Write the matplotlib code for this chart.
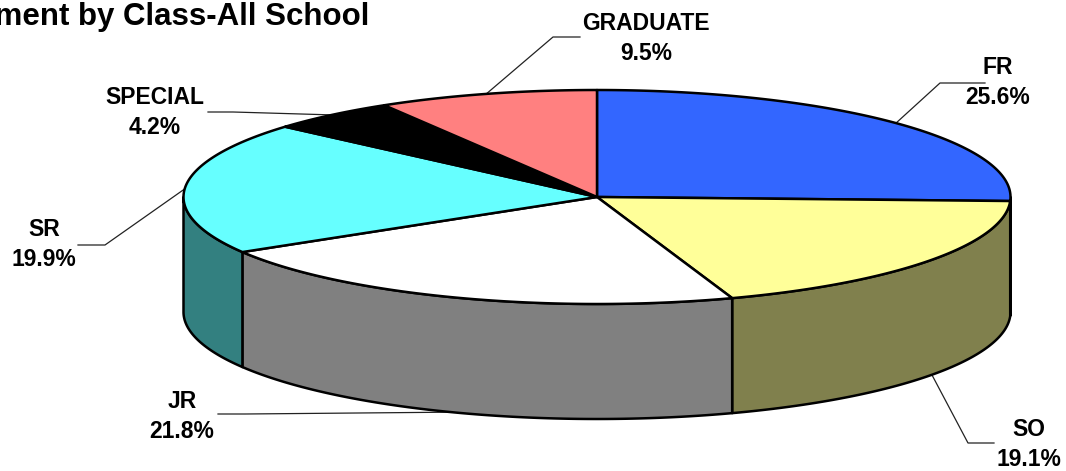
import numpy as np
import matplotlib
matplotlib.use('Agg')
import matplotlib.pyplot as plt

plt.rcParams['font.family'] = ['Liberation Sans', 'DejaVu Sans']

# Data
categories = ['FR', 'SO', 'JR', 'SR', 'SPECIAL', 'GRADUATE']
percents = [25.6, 19.1, 21.8, 19.9, 4.2, 9.5]
# slice sizes as drawn in the picture (they differ a little from the printed labels)
drawn_shares = [25.6, 19.1, 21.7, 20.0, 5.0, 8.6]

top_colors = ['#3366FF', '#FFFF99', '#FFFFFF', '#66FFFF', '#000000', '#FF8080']
side_colors = ['#1A3380', '#80804D', '#808080', '#338080', '#000000', '#804040']

# Pie shape in pixels
cx, cy = 597, 197
rx, ry = 413.5, 107
depth = 115

# Label text centre and leader line (slice end -> elbow -> label end)
label_pos = [(998, 83), (1029, 445), (182, 416), (44, 245), (155, 112), (646, 39)]
leaders = [
    [(895, 124), (940, 83), (985, 83)],
    [(932, 375), (968, 443), (994, 443)],
    [(470, 412), (245, 414), (218, 414)],
    [(186, 188), (105, 245), (78, 245)],
    [(335, 115), (233, 112), (208, 112)],
    [(485, 95), (553, 37), (580, 37)],
]


def ellipse_pts(a0, a1, dy=0):
    t = np.radians(np.linspace(a0, a1, 200))
    return cx + rx * np.cos(t), cy + dy - ry * np.sin(t)


fig = plt.figure(figsize=(10.66, 4.71), dpi=100)
ax = fig.add_axes([0, 0, 1, 1])
ax.set_xlim(0, 1066)
ax.set_ylim(471, 0)
ax.axis('off')

# Leader lines go under the pie
for pts in leaders:
    xs, ys = zip(*pts)
    ax.plot(xs, ys, color='#222222', lw=0.9, zorder=1)

# Clockwise from 12 o'clock
edges = 90 - 360 * np.cumsum([0] + drawn_shares) / np.sum(drawn_shares)

# Side walls, only the front half of the rim shows
for i in range(len(categories)):
    a0, a1 = edges[i], edges[i + 1]
    lo = max(a1, -180)
    hi = min(a0, 0)
    if hi <= lo:
        continue
    x1, y1 = ellipse_pts(hi, lo)
    x2, y2 = ellipse_pts(lo, hi, depth)
    ax.fill(np.r_[x1, x2], np.r_[y1, y2], facecolor=side_colors[i],
            edgecolor='black', lw=1.8, joinstyle='round', zorder=2)

# Top slices
for i in range(len(categories)):
    x1, y1 = ellipse_pts(edges[i], edges[i + 1])
    ax.fill(np.r_[cx, x1], np.r_[cy, y1], facecolor=top_colors[i],
            edgecolor='black', lw=1.8, joinstyle='round', zorder=3)

# Labels
for name, pct, (lx, ly) in zip(categories, percents, label_pos):
    ax.text(lx, ly - 15, name, ha='center', va='center', fontsize=16.5,
            fontweight='bold', color='black', zorder=5)
    ax.text(lx, ly + 15, f'{pct}%', ha='center', va='center', fontsize=16.5,
            fontweight='bold', color='black', zorder=5)

# Title runs off the left edge in the original
ax.text(369, 25, 'Enrollment by Class-All School', ha='right', va='baseline',
        fontsize=22.5, fontweight='bold', color='black', zorder=5)

fig.savefig('out.png', dpi=100)
